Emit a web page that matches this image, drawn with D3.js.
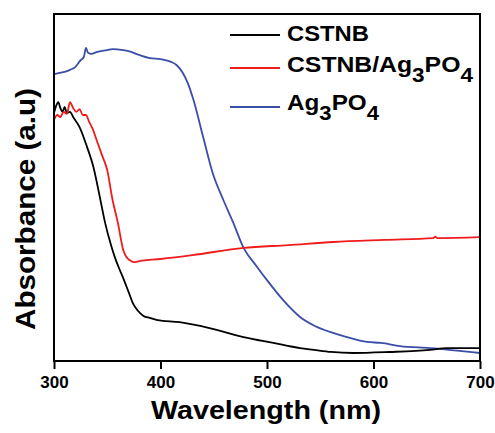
<!DOCTYPE html>
<html>
<head>
<meta charset="utf-8">
<script src="https://cdn.jsdelivr.net/npm/d3@7"></script>
<style>
  html, body { margin: 0; padding: 0; background: #fff; }
  svg { display: block; font-family: "Liberation Sans", Arial, sans-serif; font-weight: bold; }
</style>
</head>
<body>
<svg id="chart" width="495" height="433"></svg>
<script>
// ---- Data (wavelength nm, absorbance a.u.) ----
const seriesNames = ["CSTNB", "CSTNB/Ag3PO4", "Ag3PO4"];
const seriesColors = ["#000000", "#ee1c1c", "#3a4ea8"];
const xTicks = [300, 400, 500, 600, 700];

const cstnbWl = [300,302,304,306,308,310,312,315,318,324,331,337,343,348,354,357,361,365,370,374,379,384,390,397,418,446,478,506,531,544,560,581,615,653,669,700];
const cstnbAbs = [0.715,0.735,0.746,0.729,0.718,0.732,0.715,0.718,0.703,0.674,0.617,0.559,0.473,0.398,0.329,0.300,0.268,0.239,0.199,0.167,0.144,0.130,0.124,0.118,0.112,0.095,0.069,0.052,0.037,0.032,0.026,0.023,0.026,0.032,0.037,0.037];

const compWl = [300,303,306,309,312,315,318,321,324,327,330,333,336,340,345,350,355,360,365,368,371,375,380,400,430,478,520,562,610,656,658,660,700];
const compAbs = [0.695,0.709,0.703,0.718,0.712,0.746,0.729,0.718,0.726,0.709,0.709,0.689,0.671,0.637,0.594,0.550,0.464,0.398,0.320,0.300,0.291,0.285,0.288,0.294,0.305,0.326,0.334,0.343,0.349,0.354,0.358,0.354,0.357];

const agWl = [300,305,310,315,320,325,328,330,332,335,340,350,355,365,370,380,390,400,410,415,421,426,431,440,449,459,468,478,490,500,515,531,545,562,575,594,607,625,653,700];
const agAbs = [0.827,0.830,0.833,0.839,0.847,0.867,0.876,0.902,0.888,0.885,0.890,0.896,0.899,0.896,0.893,0.882,0.873,0.870,0.862,0.853,0.830,0.798,0.752,0.646,0.542,0.464,0.401,0.326,0.274,0.233,0.176,0.127,0.101,0.081,0.069,0.055,0.052,0.043,0.037,0.023];

const seriesWl = [cstnbWl, compWl, agWl];
const seriesAbs = [cstnbAbs, compAbs, agAbs];

// ---- Layout ----
const svg = d3.select("#chart");
const mLeft = 54, mRight = 480, mTop = 14, mBottom = 361;

const x = d3.scaleLinear().domain([300, 700]).range([mLeft, mRight]);
const y = d3.scaleLinear().domain([0, 1]).range([mBottom, mTop]);

svg.append("clipPath").attr("id", "clip")
  .append("rect").attr("x", mLeft).attr("y", mTop).attr("width", mRight - mLeft).attr("height", mBottom - mTop);

// curves
const line = d3.line().x(d => x(d[0])).y(d => y(d[1])).curve(d3.curveMonotoneX);
const plot = svg.append("g").attr("clip-path", "url(#clip)");
[2, 0, 1].forEach(i => {
  const pts = seriesWl[i].map((w, k) => [w, seriesAbs[i][k]]);
  plot.append("path").datum(pts)
    .attr("d", line)
    .attr("fill", "none")
    .attr("stroke", seriesColors[i])
    .attr("stroke-width", 1.8)
    .attr("stroke-linejoin", "round");
});

// frame
svg.append("rect").attr("x", mLeft).attr("y", mTop)
  .attr("width", mRight - mLeft).attr("height", mBottom - mTop)
  .attr("fill", "none").attr("stroke", "#000").attr("stroke-width", 2);

// x axis
const xAxis = d3.axisBottom(x).tickValues(xTicks).tickSize(8).tickPadding(4).tickFormat(d3.format("d"));
const gx = svg.append("g").attr("transform", `translate(0,${mBottom})`).call(xAxis);
gx.select(".domain").remove();
gx.selectAll(".tick line").attr("stroke", "#000").attr("stroke-width", 2);
gx.selectAll(".tick text").attr("font-size", 17).attr("font-weight", "bold")
  .attr("font-family", "Liberation Sans, Arial, sans-serif").attr("fill", "#000")
  .attr("y", 27).attr("dy", 0);

// axis titles
svg.append("text").attr("x", 266).attr("y", 419)
  .attr("text-anchor", "middle").attr("font-size", 25)
  .attr("textLength", 230).attr("lengthAdjust", "spacingAndGlyphs")
  .text("Wavelength (nm)");

svg.append("text").attr("transform", "translate(35,209) rotate(-90)")
  .attr("text-anchor", "middle").attr("font-size", 27)
  .attr("textLength", 242).attr("lengthAdjust", "spacingAndGlyphs")
  .text("Absorbance (a.u)");

// legend
const legendY = [35, 68, 107];
const legendBase = [41, 72, 110];
const legendWidth = [82, 187, 93];
const legendParts = [
  [["CSTNB", 0]],
  [["CSTNB/Ag", 0], ["3", 1], ["PO", 0], ["4", 1]],
  [["Ag", 0], ["3", 1], ["PO", 0], ["4", 1]]
];
const lg = svg.append("g");
seriesNames.forEach((name, i) => {
  lg.append("line").attr("x1", 230).attr("x2", 280)
    .attr("y1", legendY[i]).attr("y2", legendY[i])
    .attr("stroke", seriesColors[i]).attr("stroke-width", 1.8);
  const t = lg.append("text").attr("x", 0).attr("y", 0).attr("font-size", 22);
  let sub = false;
  legendParts[i].forEach(([s, isSub]) => {
    const ts = t.append("tspan").text(s);
    if (isSub && !sub) { ts.attr("dy", 10).attr("font-size", 20); sub = true; }
    else if (!isSub && sub) { ts.attr("dy", -10); sub = false; }
    else if (isSub) { ts.attr("font-size", 20); }
  });
  const w = t.node().getBBox().width;
  t.attr("transform", `translate(287,${legendBase[i]}) scale(${legendWidth[i] / w},1)`);
});
</script>
</body>
</html>
